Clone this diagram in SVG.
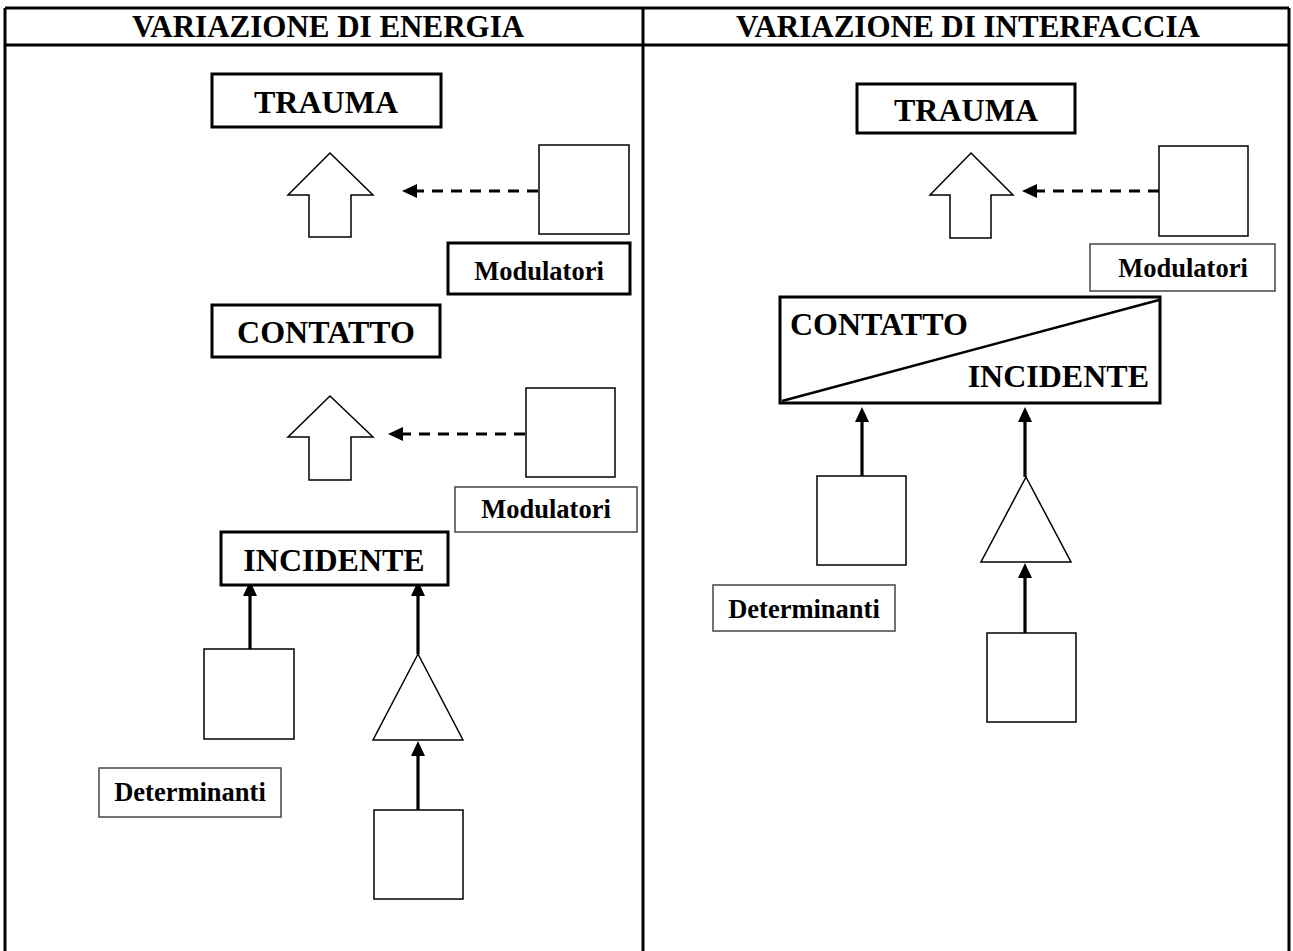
<svg xmlns="http://www.w3.org/2000/svg" width="1293" height="951" viewBox="0 0 1293 951">
<defs>
<style>
.tbl{fill:none;stroke:#000;stroke-width:3}
.thick{fill:#fff;stroke:#000;stroke-width:3}
.thin{fill:#fff;stroke:#000;stroke-width:1.5}
.grey{fill:#fff;stroke:#444;stroke-width:1.5}
.hdr{font-family:"Liberation Serif","Times New Roman",serif;font-weight:bold;font-size:31px;fill:#000;text-anchor:middle}
.big{font-family:"Liberation Serif","Times New Roman",serif;font-weight:bold;font-size:32px;fill:#000}
.lbl{font-family:"Liberation Serif","Times New Roman",serif;font-weight:bold;font-size:26.5px;fill:#000;text-anchor:middle}
.dash{fill:none;stroke:#000;stroke-width:3;stroke-dasharray:11 8}
.solid{fill:none;stroke:#000;stroke-width:3.2}
</style>
<marker id="ah" viewBox="0 0 15 14" refX="7" refY="7" markerWidth="15" markerHeight="14" markerUnits="userSpaceOnUse" orient="auto">
<path d="M0,0 L15,7 L0,14 Z" fill="#000"/>
</marker>
</defs>
<rect width="1293" height="951" fill="#fff"/>
<g id="table">
<line class="tbl" x1="5" y1="8" x2="1289" y2="8"/>
<line class="tbl" x1="5" y1="45" x2="1289" y2="45"/>
<line class="tbl" x1="5" y1="8" x2="5" y2="951"/>
<line class="tbl" x1="643" y1="8" x2="643" y2="951"/>
<line class="tbl" x1="1289" y1="8" x2="1289" y2="951"/>
<text class="hdr" x="328" y="37">VARIAZIONE DI ENERGIA</text>
<text class="hdr" x="968" y="37">VARIAZIONE DI INTERFACCIA</text>
</g>
<g id="connectors">
<path class="dash" d="M538,191 L410,191" marker-end="url(#ah)"/>
<path class="dash" d="M525,434 L396,434" marker-end="url(#ah)"/>
<path class="solid" d="M250,652 L250,589" marker-end="url(#ah)"/>
<path class="solid" d="M418,654 L418,589" marker-end="url(#ah)"/>
<path class="solid" d="M418,811 L418,749" marker-end="url(#ah)"/>
<path class="dash" d="M1159,191 L1030,191" marker-end="url(#ah)"/>
<path class="solid" d="M862,478 L862,415" marker-end="url(#ah)"/>
<path class="solid" d="M1025,477 L1025,415" marker-end="url(#ah)"/>
<path class="solid" d="M1025,634 L1025,571" marker-end="url(#ah)"/>
</g>
<g id="trauma-l"><rect class="thick" x="212" y="74" width="229" height="53"/><text class="big" x="326" y="113" text-anchor="middle">TRAUMA</text></g>
<g id="blockarrow-l1"><path class="thin" d="M330,153 L373,195 L351,195 L351,237 L309,237 L309,195 L288,195 Z"/></g>
<g id="square-l1"><rect class="thin" x="539" y="145" width="90" height="89"/></g>
<g id="modulatori-l1"><rect class="thick" x="448" y="243" width="182" height="51"/><text class="lbl" x="539" y="280">Modulatori</text></g>
<g id="contatto-l"><rect class="thick" x="212" y="305" width="228" height="52"/><text class="big" x="326" y="343" text-anchor="middle">CONTATTO</text></g>
<g id="blockarrow-l2"><path class="thin" d="M330,396 L373,437 L351,437 L351,480 L309,480 L309,437 L288,437 Z"/></g>
<g id="square-l2"><rect class="thin" x="526" y="388" width="89" height="89"/></g>
<g id="modulatori-l2"><rect class="grey" x="455" y="487" width="182" height="45"/><text class="lbl" x="546" y="518">Modulatori</text></g>
<g id="incidente-l"><rect class="thick" x="221" y="532" width="227" height="53"/><text class="big" x="334" y="571" text-anchor="middle">INCIDENTE</text></g>
<g id="square-l3"><rect class="thin" x="204" y="649" width="90" height="90"/></g>
<g id="triangle-l"><path class="thin" d="M418,654 L463,740 L373,740 Z"/></g>
<g id="square-l4"><rect class="thin" x="374" y="810" width="89" height="89"/></g>
<g id="determinanti-l"><rect class="grey" x="99" y="768" width="182" height="49"/><text class="lbl" x="190" y="801">Determinanti</text></g>
<g id="trauma-r"><rect class="thick" x="857" y="84" width="218" height="49"/><text class="big" x="966" y="121" text-anchor="middle">TRAUMA</text></g>
<g id="blockarrow-r1"><path class="thin" d="M971,153 L1013,195 L991,195 L991,238 L950,238 L950,195 L930,195 Z"/></g>
<g id="square-r1"><rect class="thin" x="1159" y="146" width="89" height="90"/></g>
<g id="modulatori-r1"><rect class="grey" x="1090" y="244" width="185" height="47"/><text class="lbl" x="1183" y="277">Modulatori</text></g>
<g id="contatto-incidente-r"><rect class="thick" x="780" y="297" width="380" height="106"/><line x1="782" y1="401" x2="1159" y2="300" stroke="#000" stroke-width="2.5"/><text class="big" x="790" y="335">CONTATTO</text><text class="big" x="1149" y="387" text-anchor="end">INCIDENTE</text></g>
<g id="square-r2"><rect class="thin" x="817" y="476" width="89" height="89"/></g>
<g id="triangle-r"><path class="thin" d="M1026,477 L1071,562 L981,562 Z"/></g>
<g id="square-r3"><rect class="thin" x="987" y="633" width="89" height="89"/></g>
<g id="determinanti-r"><rect class="grey" x="713" y="585" width="182" height="46"/><text class="lbl" x="804" y="618">Determinanti</text></g>
</svg>
